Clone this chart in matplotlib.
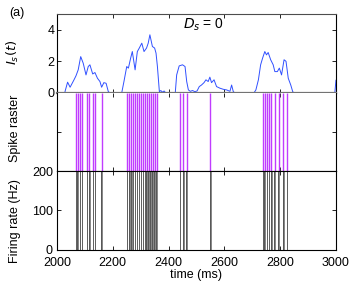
import numpy as np
import matplotlib
matplotlib.use("Agg")
import matplotlib.pyplot as plt

plt.rcParams['font.family'] = ['Liberation Sans', 'DejaVu Sans']
plt.rcParams['font.size'] = 9

# synaptic current I_s(t)
t_is = [2000, 2028, 2029, 2038, 2047, 2061, 2068, 2076, 2085, 2094, 2104, 2112, 2118,
        2128, 2136, 2145, 2154, 2160, 2168, 2176, 2184, 2190, 2232, 2240, 2250, 2256,
        2264, 2270, 2280, 2288, 2295, 2304, 2312, 2321, 2327, 2333, 2342, 2350, 2355,
        2360, 2367, 2372, 2378, 2384, 2390, 2424, 2429, 2438, 2450, 2459, 2465, 2471,
        2478, 2486, 2494, 2502, 2510, 2518, 2527, 2534, 2542, 2548, 2554, 2563, 2572,
        2584, 2596, 2608, 2620, 2626, 2632, 2638, 2706, 2713, 2722, 2730, 2737, 2745,
        2751, 2757, 2766, 2775, 2781, 2790, 2797, 2805, 2814, 2821, 2829, 2838, 2845,
        2850, 2996, 3000]
i_s = [0, 0, 0.1, 0.68, 0.36, 0.83, 1.08, 1.46, 2.3, 1.88, 1.14, 1.67, 1.78,
       1.2, 1.29, 0.93, 0.72, 0.36, 0.65, 0.61, 0.08, 0, 0, 0.72, 1.67, 1.57,
       2.2, 2.62, 1.46, 2.62, 2.84, 3.15, 2.62, 2.84, 3.15, 3.68, 2.94, 2.84, 2.52,
       1.67, 0.08, 0.15, 0.05, 0.12, 0, 0, 1.14, 1.71, 1.78, 1.67, 0.72, 0.19,
       0.1, 0.15, 0.08, 0.12, 0.4, 0.5, 0.65, 0.83, 0.72, 1.0, 0.65, 0.83, 0.4,
       0.3, 0.23, 0.19, 0.1, 0.5, 0.08, 0, 0, 0.19, 0.83, 1.78, 2.2, 2.62,
       2.41, 2.56, 2.1, 1.78, 1.35, 1.35, 1.57, 1.14, 2.1, 2.0, 0.93, 0.5, 0.08,
       0, 0, 0.8]

# spike times (ms)
spikes = np.array([2068, 2074, 2082, 2090, 2108, 2116, 2129, 2136, 2160,
                   2251, 2259, 2266, 2273, 2280, 2287, 2294, 2301, 2308, 2315,
                   2322, 2329, 2336, 2343, 2350, 2357,
                   2441, 2453, 2465, 2550,
                   2738, 2745, 2753, 2760, 2768, 2780, 2795, 2811, 2825])

xticks = [2000, 2200, 2400, 2600, 2800, 3000]

fig = plt.figure(figsize=(3.54, 2.85), dpi=100)
ax1 = fig.add_axes([0.161, 0.674, 0.788, 0.277])
ax2 = fig.add_axes([0.161, 0.400, 0.788, 0.274])
ax3 = fig.add_axes([0.161, 0.123, 0.788, 0.277])

for ax in (ax1, ax2, ax3):
    ax.set_xlim(2000, 3000)
    ax.set_xticks(xticks)
    ax.tick_params(direction='in', top=True, right=True, length=3, width=0.6, pad=2)
    for s in ax.spines.values():
        s.set_linewidth(0.8)

ax1.plot(t_is, i_s, color='#3050ff', lw=0.7, clip_on=False)
ax1.set_ylim(0, 5)
ax1.set_yticks([0, 2, 4])
ax1.set_xticklabels([])
ax1.spines['bottom'].set_color('0.45')
ax1.spines['bottom'].set_linewidth(1.6)
ax1.spines['top'].set_color('0.3')
ax1.set_ylabel(r'$I_s(t)$', fontsize=9.5)
ax1.text(2452, 4.1, r'$D_s$ = 0', fontsize=10)

ax2.vlines(spikes, 0, 1, color='#c03cff', lw=1.0)
ax2.set_ylim(0, 1)
ax2.set_yticks([0.5])
ax2.set_yticklabels([])
ax2.set_xticklabels([])
ax2.spines['top'].set_visible(False)
ax2.set_ylabel('Spike raster', fontsize=9)

ax3.vlines(spikes - 1.2, 0, 200, color='0.15', lw=0.55)
ax3.vlines(spikes + 1.2, 0, 200, color='0.4', lw=0.55)
ax3.set_ylim(0, 200)
ax3.set_yticks([0, 100, 200])
ax3.tick_params(axis='y', pad=3)
ax3.tick_params(axis='x', pad=5)
ax3.set_xlabel('time (ms)', fontsize=9, labelpad=0)
ax3.set_ylabel('Firing rate (Hz)', fontsize=9)

ax1.yaxis.set_label_coords(-0.13, 0.52)
ax2.yaxis.set_label_coords(-0.13, 0.55)
ax3.yaxis.set_label_coords(-0.13, 0.37)

fig.text(0.025, 0.945, '(a)', fontsize=9)

fig.savefig('out.png', dpi=100)
